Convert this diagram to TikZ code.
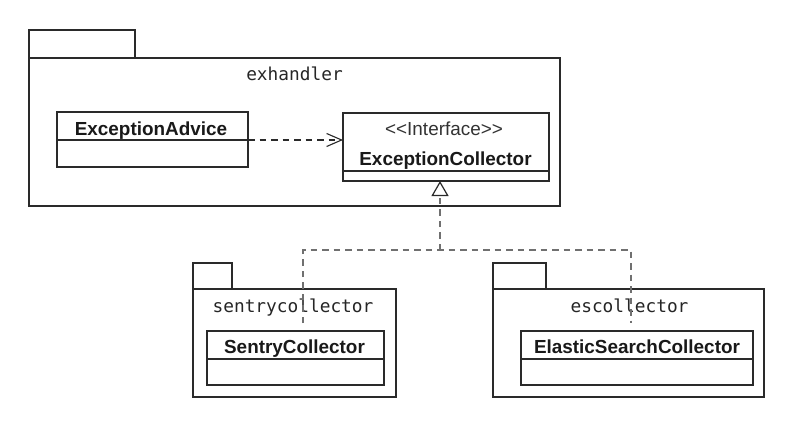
\documentclass[tikz,border=0pt]{standalone}
\usepackage{fontspec}
\setmainfont{Liberation Sans}
\newfontfamily\monof{DejaVu Sans Mono}
\usetikzlibrary{arrows.meta}
\definecolor{linec}{HTML}{2A2A2A}
\definecolor{dashc}{HTML}{707070}
\tikzset{
  box/.style={draw=linec, line width=1.2pt, inner sep=0pt, outer sep=0pt, fill=white},
  cname/.style={anchor=base, inner sep=0pt, font=\fontsize{18.9}{21}\selectfont\bfseries, text=black!90},
  stereo/.style={anchor=base, inner sep=0pt, font=\fontsize{18.9}{21}\selectfont, text=black!80},
  pname/.style={anchor=base, inner sep=0pt, font=\fontsize{17.8}{20}\selectfont\monof, text=black!85},
  dep/.style={draw=linec, line width=1.1pt, dash pattern=on 6.5pt off 5pt, -{Straight Barb[length=15pt,width=13pt,line width=1.1pt]}},
  impl/.style={draw=dashc, line width=1.2pt, dash pattern=on 6.5pt off 5pt},
}
\begin{document}
\begin{tikzpicture}[x=1pt,y=-1pt]
\useasboundingbox (0,0) rectangle (786,420);

% ---- package exhandler
\node[box, minimum width=106pt, minimum height=28pt, anchor=north west] (exTab) at (29,30) {};
\node[box, minimum width=531pt, minimum height=148pt, anchor=north west] (exBody) at (29,58) {};
\node[pname] (exLbl) at (294.5,80) {exhandler};

% ExceptionAdvice
\node[box, minimum width=191pt, minimum height=28pt, anchor=north west] (EA) at (57,112) {};
\node[box, minimum width=191pt, minimum height=27pt, anchor=north] (EAb) at (EA.south) {};
\node[cname] (EAt) at (151,135) {ExceptionAdvice};

% ExceptionCollector
\node[box, minimum width=206pt, minimum height=58pt, anchor=north west] (EC) at (343,113) {};
\node[box, minimum width=206pt, minimum height=10pt, anchor=north] (ECb) at (EC.south) {};
\node[stereo] (ECs) at (444,135) {{<}{<}Interface{>}{>}};
\node[cname] (ECt) at (445.5,165) {ExceptionCollector};

% ---- package sentrycollector
\node[box, minimum width=39pt, minimum height=26pt, anchor=north west] (scTab) at (193,263) {};
\node[box, minimum width=203pt, minimum height=108pt, anchor=north west] (scBody) at (193,289) {};
\node[pname] (scLbl) at (293,312.5) {sentrycollector};

% SentryCollector
\node[box, minimum width=177pt, minimum height=28pt, anchor=north west] (SC) at (207,331) {};
\node[box, minimum width=177pt, minimum height=26pt, anchor=north] (SCb) at (SC.south) {};
\node[cname] (SCt) at (294.5,353) {SentryCollector};

% ---- package escollector
\node[box, minimum width=53pt, minimum height=26pt, anchor=north west] (esTab) at (493,263) {};
\node[box, minimum width=271pt, minimum height=108pt, anchor=north west] (esBody) at (493,289) {};
\node[pname] (esLbl) at (629.5,312.5) {escollector};

% ElasticSearchCollector
\node[box, minimum width=232pt, minimum height=28pt, anchor=north west] (ES) at (521,331) {};
\node[box, minimum width=232pt, minimum height=26pt, anchor=north] (ESb) at (ES.south) {};
\node[cname] (ESt) at (637,353) {ElasticSearchCollector};

% ---- connectors
\draw[dep] (EA.south east) -- (EA.south east -| EC.west);

\coordinate (join) at (440,250);
\coordinate (scEnd) at (303,323);
\coordinate (esEnd) at (631,323);
\draw[impl] (scEnd) |- (join) -| (esEnd);
\draw[impl, -{Triangle[open, length=15pt, width=17pt, line width=1.2pt, color=linec, fill=white]}] (join) -- (join |- ECb.south);
\end{tikzpicture}
\end{document}
